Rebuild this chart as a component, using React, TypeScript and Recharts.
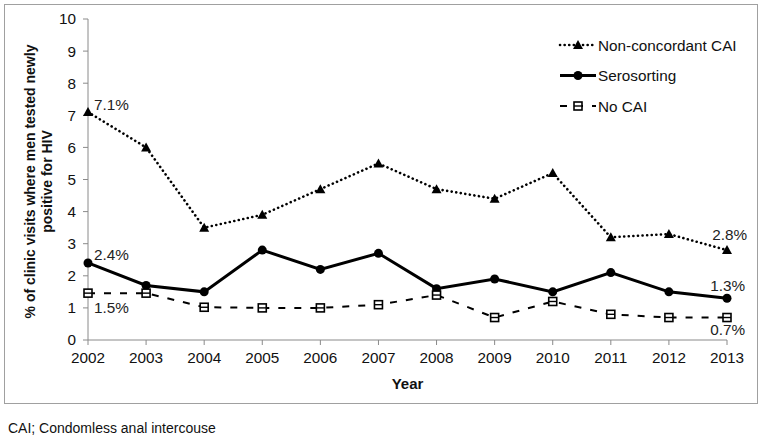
import React from 'react'
import { Label, Line, LineChart, XAxis, YAxis } from 'recharts'

const years = ['2002', '2003', '2004', '2005', '2006', '2007', '2008', '2009', '2010', '2011', '2012', '2013']
const nonConcordant = [7.1, 6.0, 3.5, 3.9, 4.7, 5.5, 4.7, 4.4, 5.2, 3.2, 3.3, 2.8]
const serosorting = [2.4, 1.7, 1.5, 2.8, 2.2, 2.7, 1.6, 1.9, 1.5, 2.1, 1.5, 1.3]
const noCai = [1.46, 1.46, 1.02, 1.0, 1.0, 1.1, 1.4, 0.7, 1.2, 0.8, 0.7, 0.7]
const yTicks = [0, 1, 2, 3, 4, 5, 6, 7, 8, 9, 10]

const data = years.map((year, i) => ({
  year,
  nonConcordant: nonConcordant[i],
  serosorting: serosorting[i],
  noCai: noCai[i],
}))

const FONT = '"Liberation Sans", Arial, sans-serif'
const AXIS = '#8a8a8a'

const Triangle = ({ cx, cy }: any) => (
  <path d={`M${cx},${cy - 5} L${cx + 5},${cy + 4} L${cx - 5},${cy + 4} Z`} fill="#000" />
)
const Dot = ({ cx, cy }: any) => <circle cx={cx} cy={cy} r={4.5} fill="#000" />
const Square = ({ cx, cy }: any) => (
  <g>
    <rect x={cx - 4} y={cy - 4} width={8} height={8} fill="#fff" stroke="#000" strokeWidth={1.6} />
    <line x1={cx - 4} x2={cx + 4} y1={cy} y2={cy} stroke="#000" strokeWidth={1.4} />
  </g>
)

// only first and last points get a value label
const endLabel = (first: [number, number], last: [number, number]) => (props: any) => {
  const { x, y, value, index } = props
  if (index === 0) {
    return (
      <text x={x + first[0]} y={y + first[1]} fontSize={15.3} fontFamily={FONT} fill="#222">
        {value.toFixed(1)}%
      </text>
    )
  }
  if (index === years.length - 1) {
    return (
      <text x={x + last[0]} y={y + last[1]} fontSize={15.3} fontFamily={FONT} fill="#222" textAnchor="end">
        {value.toFixed(1)}%
      </text>
    )
  }
  return null
}

const legendItems = [
  { name: 'Non-concordant CAI', dash: '0.1 4.5', width: 2.6, cap: 'round', Marker: Triangle },
  { name: 'Serosorting', dash: undefined, width: 3, cap: 'butt', Marker: Dot },
  { name: 'No CAI', dash: '7 9', width: 2, cap: 'butt', Marker: Square },
]

const LegendBox = () => (
  <svg width={200} height={90}>
    {legendItems.map((item, i) => {
      const cy = 12 + i * 30.5
      const M = item.Marker
      return (
        <g key={item.name}>
          <line
            x1={2}
            x2={38}
            y1={cy}
            y2={cy}
            stroke="#000"
            strokeWidth={item.width}
            strokeDasharray={item.dash}
            strokeLinecap={item.cap as any}
          />
          <M cx={20} cy={cy} />
          <text x={40} y={cy + 5.5} fontSize={15.3} fontFamily={FONT} fill="#111">
            {item.name}
          </text>
        </g>
      )
    })}
  </svg>
)

const YLabel = ({ viewBox }: any) => {
  const cy = viewBox.y + viewBox.height / 2 + 2
  return (
    <g fontFamily={FONT} fontWeight="bold" fontSize={14} fill="#111" textAnchor="middle">
      <text x={35} y={cy} transform={`rotate(-90, 35, ${cy})`}>
        % of clinic visits where men tested newly
      </text>
      <text x={52} y={cy} transform={`rotate(-90, 52, ${cy})`}>
        positive for HIV
      </text>
    </g>
  )
}

export default function App() {
  return (
    <div style={{ position: 'absolute', left: 0, top: 0, width: 763, height: 439, background: '#fff' }}>
      <div
        style={{
          position: 'absolute',
          left: 4,
          top: 4,
          width: 752,
          height: 398,
          border: '1px solid #a0a0a0',
        }}
      />
      <div style={{ position: 'absolute', left: 0, top: 0 }}>
        <LineChart
          width={763}
          height={439}
          data={data}
          margin={{ top: 19, right: 36, left: 38, bottom: 69 }}
        >
          <XAxis
            dataKey="year"
            height={30}
            stroke={AXIS}
            tickSize={5}
            tickMargin={7}
            interval={0}
            tick={{ fill: '#111', fontSize: 15.3, fontFamily: FONT }}
          >
            <Label
              value="Year"
              position="insideBottom"
              offset={-19}
              style={{ fontFamily: FONT, fontWeight: 'bold', fontSize: 15, fill: '#111' }}
            />
          </XAxis>
          <YAxis
            width={50}
            domain={[0, 10]}
            ticks={yTicks}
            interval={0}
            stroke={AXIS}
            tickSize={5}
            tickMargin={7}
            tick={{ fill: '#111', fontSize: 15.3, fontFamily: FONT }}
            label={<YLabel />}
          />
          <Line
            dataKey="nonConcordant"
            name="Non-concordant CAI"
            type="linear"
            stroke="#000"
            strokeWidth={2.6}
            strokeDasharray="0.1 4.5"
            strokeLinecap="round"
            dot={<Triangle />}
            activeDot={false}
            label={endLabel([6, -2], [20, -10])}
            isAnimationActive={false}
          />
          <Line
            dataKey="serosorting"
            name="Serosorting"
            type="linear"
            stroke="#000"
            strokeWidth={3}
            dot={<Dot />}
            activeDot={false}
            label={endLabel([6, -3], [18, -7])}
            isAnimationActive={false}
          />
          <Line
            dataKey="noCai"
            name="No CAI"
            type="linear"
            stroke="#000"
            strokeWidth={2}
            strokeDasharray="7 9"
            dot={<Square />}
            activeDot={false}
            label={endLabel([6, 20], [18, 17])}
            isAnimationActive={false}
          />
        </LineChart>
      </div>
      <div style={{ position: 'absolute', left: 558, top: 33 }}>
        <LegendBox />
      </div>
      <div
        style={{
          position: 'absolute',
          left: 8,
          top: 420,
          fontFamily: FONT,
          fontSize: 14,
          color: '#111',
          whiteSpace: 'nowrap',
        }}
      >
        CAI; Condomless anal intercouse
      </div>
    </div>
  )
}
